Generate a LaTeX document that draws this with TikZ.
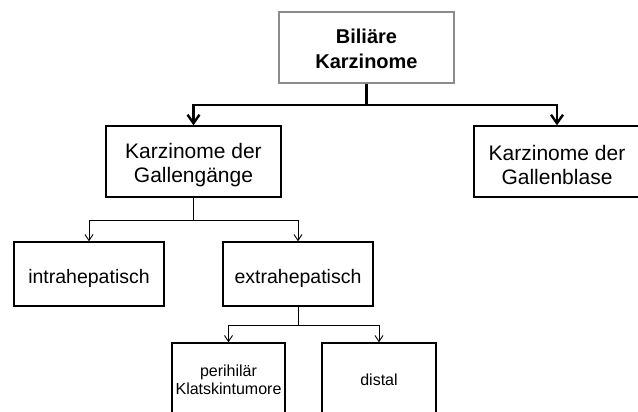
\documentclass[tikz,border=0pt]{standalone}
\usepackage{fontspec}
\setmainfont{Liberation Sans}
\usetikzlibrary{arrows.meta}
\definecolor{boxgray}{RGB}{140,140,140}
\newcommand{\lift}[1]{\rule{0pt}{#1}}
\tikzset{
  topbox/.style={draw=boxgray, line width=2.2pt, minimum width=175pt, minimum height=71pt, inner sep=0pt, align=center, font=\fontsize{20}{25}\selectfont\bfseries},
  midbox/.style={draw=black, line width=1.4pt, minimum width=175pt, minimum height=71pt, inner sep=0pt, align=center, font=\fontsize{21}{24}\selectfont},
  lowbox/.style={draw=black, line width=1.4pt, minimum width=150pt, minimum height=64pt, inner sep=0pt, align=center, font=\fontsize{19.5}{23}\selectfont},
  leafbox/.style={draw=black, line width=1.4pt, minimum height=74pt, inner sep=0pt, align=center, font=\fontsize{16}{18}\selectfont},
  thickconn/.style={line width=2.4pt, -{Straight Barb[length=8.5pt,width=12pt,line width=2.4pt]}},
  thinconn/.style={line width=1pt, -{Straight Barb[length=6pt,width=8pt,line width=0.9pt]}},
}
\begin{document}
\begin{tikzpicture}[x=1pt,y=-1pt]
\path[use as bounding box, clip] (0,0) rectangle (638,412);
\fill[white] (0,0) rectangle (638,412);
\node[topbox] (top) at (366.5,47.5) {\lift{17.5pt}Biliäre\\Karzinome};
\node[midbox] (gg) at (193.5,161.5) {\lift{22pt}Karzinome der\\Gallengänge};
\node[midbox, minimum width=166pt] (gb) at (557,161.5) {\lift{22pt}Karzinome der\\Gallenblase};
\node[lowbox] (intra) at (89,274) {\lift{24pt}intrahepatisch};
\node[lowbox] (extra) at (298,274) {\lift{24pt}extrahepatisch};
\node[leafbox, minimum width=113pt] (peri) at (228.5,380) {perihilär\\Klatskintumore};
\node[leafbox, minimum width=114pt] (dist) at (379,380) {distal};
\coordinate (j1) at (366.5,105);
\coordinate (j2) at (193.5,220);
\coordinate (j3) at (298,325);
\draw[thickconn] (top.south) -- (j1) -| (gg.north);
\draw[thickconn] (j1) -| (gb.north);
\draw[thinconn] (gg.south) -- (j2) -| (intra.north);
\draw[thinconn] (j2) -| (extra.north);
\draw[thinconn] (extra.south) -- (j3) -| (peri.north);
\draw[thinconn] (j3) -| (dist.north);
\end{tikzpicture}
\end{document}
